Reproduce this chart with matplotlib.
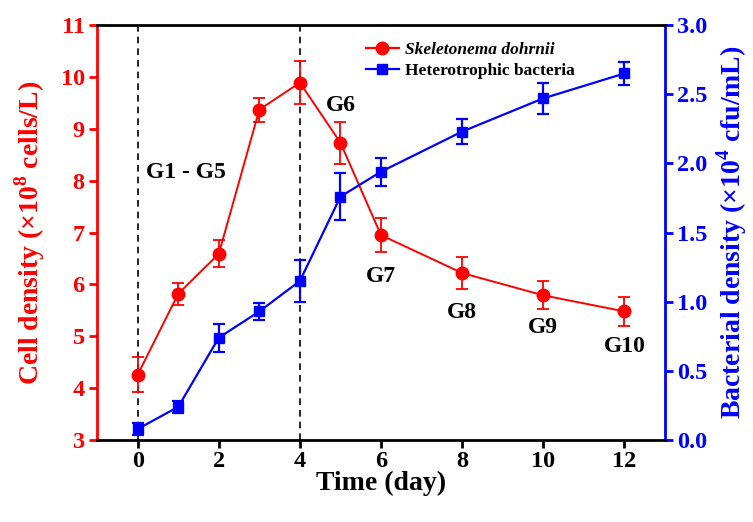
import matplotlib
matplotlib.use("Agg")
import matplotlib.pyplot as plt
from matplotlib.lines import Line2D

plt.rcParams['font.family'] = ['Liberation Serif', 'DejaVu Serif']
plt.rcParams['font.weight'] = 'bold'
plt.rcParams['mathtext.fontset'] = 'custom'
plt.rcParams['mathtext.rm'] = 'Liberation Serif:bold'
plt.rcParams['mathtext.bf'] = 'Liberation Serif:bold'

days = [0, 1, 2, 3, 4, 5, 6, 8, 10, 12]
cell_density = [4.26, 5.82, 6.59, 9.37, 9.89, 8.73, 6.95, 6.22, 5.79, 5.48]
cell_err = [0.34, 0.21, 0.26, 0.23, 0.41, 0.40, 0.33, 0.31, 0.27, 0.28]
bact_density = [0.08, 0.24, 0.74, 0.93, 1.15, 1.76, 1.94, 2.23, 2.47, 2.65]
bact_err = [0.045, 0.045, 0.10, 0.06, 0.15, 0.17, 0.10, 0.09, 0.11, 0.08]

group_labels = ["G1 - G5", "G6", "G7", "G8", "G9", "G10"]
group_x = [1.18, 5.0, 6.0, 8.0, 10.0, 12.0]
group_y = [8.16, 9.45, 6.15, 5.45, 5.16, 4.8]

x_ticks = [0, 2, 4, 6, 8, 10, 12]
left_ticks = [3, 4, 5, 6, 7, 8, 9, 10, 11]
right_ticks = [0.0, 0.5, 1.0, 1.5, 2.0, 2.5, 3.0]

RED = '#ff0000'
BLUE = '#0000ff'

fig = plt.figure(figsize=(7.53, 5.22), dpi=100)
ax = fig.add_axes([0.129, 0.157, 0.754, 0.795])
ax2 = ax.twinx()

for xv in [0, 4]:
    ax.axvline(xv, color='black', linestyle=(0, (4, 3)), linewidth=1.2, zorder=1)

ax.errorbar(days, cell_density, yerr=cell_err, color=RED, marker='o',
            markersize=9, linewidth=1.4, capsize=4, elinewidth=1.3,
            capthick=1.3, zorder=3)
ax2.errorbar(days, bact_density, yerr=bact_err, color=BLUE, marker='s',
             markersize=7.5, linewidth=1.6, capsize=4, elinewidth=1.6,
             capthick=1.6, zorder=3)

ax.set_xlim(-1, 13)
ax.set_ylim(3, 11)
ax2.set_ylim(0, 3.0)
ax.set_xticks(x_ticks)
ax.set_yticks(left_ticks)
ax2.set_yticks(right_ticks)
ax2.set_yticklabels([f"{v:.1f}" for v in right_ticks])

for s in ['top', 'bottom']:
    ax2.spines[s].set_linewidth(2)
    ax2.spines[s].set_color('black')
ax2.spines['left'].set_color(RED)
ax2.spines['left'].set_linewidth(2)
ax2.spines['right'].set_color(BLUE)
ax2.spines['right'].set_linewidth(2)
for s in ax.spines.values():
    s.set_visible(False)

ax.tick_params(axis='x', direction='out', length=6, width=2, labelsize=17.5, colors='black', pad=2)
ax.tick_params(axis='y', direction='out', length=6, width=2, labelsize=17.5, colors=RED, pad=3)
ax2.tick_params(axis='y', direction='out', length=6, width=2, labelsize=17.5, colors=BLUE, pad=3)

ax.set_xlabel('Time (day)', fontsize=20, fontweight='bold', labelpad=-1)
ax.set_ylabel(r'Cell density ($\times$10$^{8}$ cells/L)', fontsize=20, fontweight='bold',
              color=RED, labelpad=10)
ax2.set_ylabel(r'Bacterial density ($\times$10$^{4}$ cfu/mL)', fontsize=20, fontweight='bold',
               color=BLUE, labelpad=5)

for lab, gx, gy in zip(group_labels, group_x, group_y):
    ax.text(gx, gy, lab, fontsize=17, fontweight='bold', ha='center', va='center', zorder=4)

handles = [Line2D([], [], color=RED, marker='o', markersize=9, linewidth=1.6),
           Line2D([], [], color=BLUE, marker='s', markersize=7.5, linewidth=1.6)]
leg = ax2.legend(handles, ['Skeletonema dohrnii', 'Heterotrophic bacteria'],
                 loc='upper left', bbox_to_anchor=(0.455, 0.985), frameon=False,
                 fontsize=12.5, handlelength=1.9, handletextpad=0.35, labelspacing=0.3,
                 borderaxespad=0.2)
leg.get_texts()[0].set_fontstyle('italic')

fig.savefig('out.png', dpi=100)
